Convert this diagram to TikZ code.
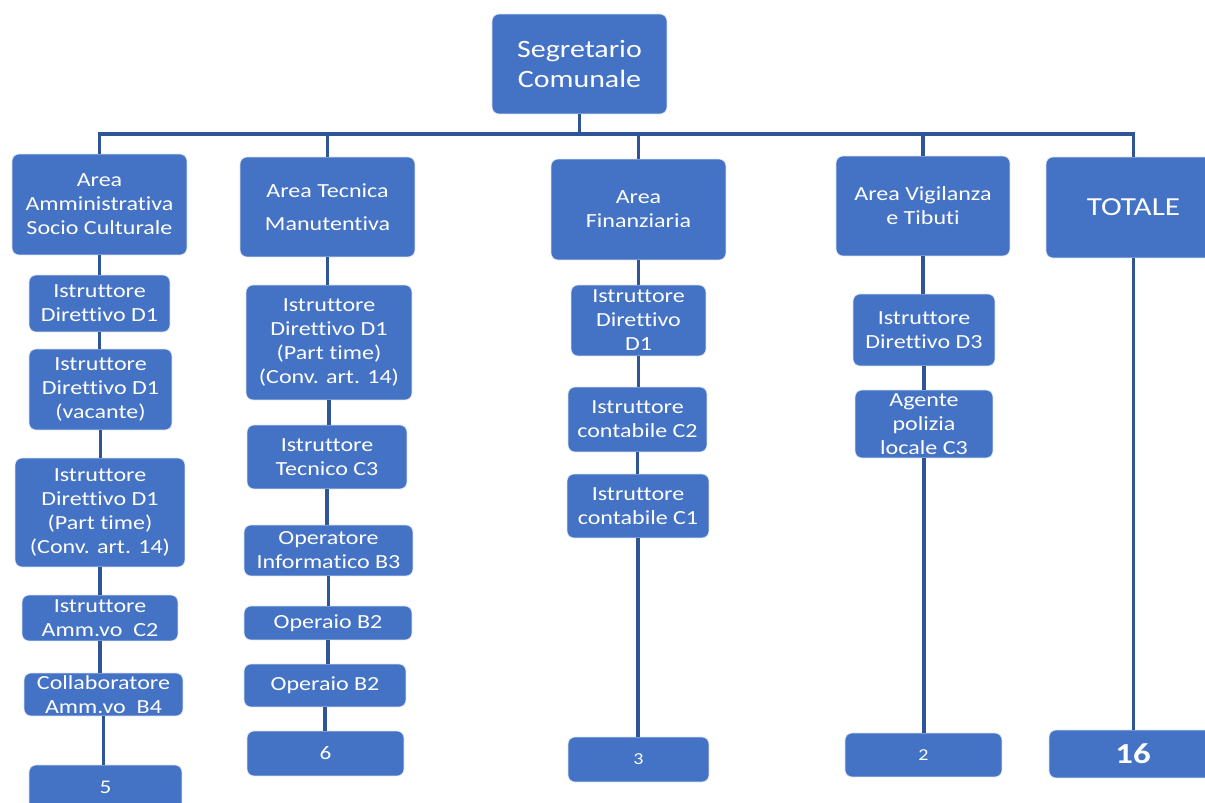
\documentclass[tikz,border=0pt]{standalone}
\usepackage{fontspec}
\setmainfont[FakeStretch=1.2,Ligatures=CommonOff]{Carlito}
\definecolor{boxblue}{HTML}{4472C4}
\definecolor{lineblue}{HTML}{2F5597}
\begin{document}
\begin{tikzpicture}[x=0.02cm,y=-0.02cm]
    \tikzstyle{ufficio}=[fill=boxblue,draw=white!80!boxblue,rounded corners=4pt,text=white,align=center,inner sep=1pt,font=\fontsize{11.4}{13.7}\selectfont]
    \tikzstyle{totale}=[ufficio,font=\fontsize{11}{13}\selectfont]
    \tikzstyle{link}=[draw=lineblue,line width=2pt]

    \useasboundingbox (0,0) rectangle (1205,803);

    \node[ufficio,minimum width=3.5cm,minimum height=2cm,font=\fontsize{14.2}{17}\selectfont] at (579.5,64) (seg) {Segretario\\Comunale};
    \coordinate (bar) at (580,134);

    \node[ufficio,minimum width=3.5cm,minimum height=2.02cm] at (99.5,204.5) (amm) {Area\\Amministrativa\\Socio Culturale};
    \node[ufficio,minimum width=3.5cm,minimum height=2cm] at (327.5,207) (tec) {Area Tecnica\\[5pt]Manutentiva};
    \node[ufficio,minimum width=3.5cm,minimum height=2.02cm] at (638.5,209.5) (fin) {Area\\Finanziaria};
    \node[ufficio,minimum width=3.48cm,minimum height=2cm] at (923,206) (vig) {Area Vigilanza\\e Tibuti};
    \node[ufficio,minimum width=3.5cm,minimum height=2.02cm,font=\fontsize{14.8}{17}\selectfont] at (1133.5,207.5) (tot) {TOTALE};

    % Area Amministrativa
    \node[ufficio,minimum width=2.82cm,minimum height=1.14cm] at (99.5,303.5) (amm1) {Istruttore\\Direttivo D1};
    \node[ufficio,minimum width=2.86cm,minimum height=1.62cm] at (100.5,389.5) (amm2) {Istruttore\\Direttivo D1\\(vacante)};
    \node[ufficio,minimum width=3.4cm,minimum height=2.18cm] at (100,512.5) (amm3) {Istruttore\\Direttivo D1\\(Part time)\\(Conv. art. 14)};
    \node[ufficio,minimum width=3.12cm,minimum height=0.92cm] at (100,618) (amm4) {Istruttore\\Amm.vo\ \ C2};
    \node[ufficio,minimum width=3.18cm,minimum height=0.86cm] at (103.5,694.5) (amm5) {Collaboratore\\Amm.vo\ \ B4};
    \node[totale,minimum width=3.06cm,minimum height=0.9cm] at (105.5,787.5) (ammtot) {5};

    % Area Tecnica
    \node[ufficio,minimum width=3.32cm,minimum height=2.3cm] at (329,342.5) (tec1) {Istruttore\\Direttivo D1\\(Part time)\\(Conv. art. 14)};
    \node[ufficio,minimum width=3.2cm,minimum height=1.28cm] at (327,457) (tec2) {Istruttore\\Tecnico C3};
    \node[ufficio,minimum width=3.38cm,minimum height=1.02cm] at (328.5,550.5) (tec3) {Operatore\\Informatico B3};
    \node[ufficio,minimum width=3.36cm,minimum height=0.68cm] at (328,623) (tec4) {Operaio B2};
    \node[ufficio,minimum width=3.24cm,minimum height=0.86cm] at (325,685.5) (tec5) {Operaio B2};
    \node[totale,minimum width=3.14cm,minimum height=0.9cm] at (325.5,753.5) (tectot) {6};

    % Area Finanziaria
    \node[ufficio,minimum width=2.7cm,minimum height=1.42cm] at (638.5,320.5) (fin1) {Istruttore\\Direttivo\\D1};
    \node[ufficio,minimum width=2.78cm,minimum height=1.3cm] at (637.5,419.5) (fin2) {Istruttore\\contabile C2};
    \node[ufficio,minimum width=2.84cm,minimum height=1.28cm] at (638,506) (fin3) {Istruttore\\contabile C1};
    \node[totale,minimum width=2.82cm,minimum height=0.9cm,font=\fontsize{9.5}{11}\selectfont] at (638.5,759.5) (fintot) {3};

    % Area Vigilanza
    \node[ufficio,minimum width=2.84cm,minimum height=1.44cm] at (924,330) (vig1) {Istruttore\\Direttivo D3};
    \node[ufficio,minimum width=2.76cm,minimum height=1.36cm] at (924,424) (vig2) {Agente\\polizia\\locale C3};
    \node[totale,minimum width=3.14cm,minimum height=0.88cm,font=\fontsize{9.5}{11}\selectfont] at (923.5,755) (vigtot) {2};

    % Totale
    \node[totale,minimum width=3.36cm,minimum height=0.96cm,font=\fontsize{16.5}{19}\selectfont\bfseries] at (1133,754) (tottot) {16};

    % links
    \foreach \area in {amm,tec,fin,vig,tot}
        \draw[link] (seg.south) -- (seg.south |- bar) -| (\area.north);
    \foreach \a/\b in {amm/amm1,amm1/amm2,amm2/amm3,amm3/amm4,amm4/amm5,amm5/ammtot,
                       tec/tec1,tec1/tec2,tec2/tec3,tec3/tec4,tec4/tec5,tec5/tectot,
                       fin/fin1,fin1/fin2,fin2/fin3,fin3/fintot,
                       vig/vig1,vig1/vig2,vig2/vigtot,tot/tottot}
        \draw[link] (\a.south) -- (\a.south |- \b.north);
\end{tikzpicture}
\end{document}
